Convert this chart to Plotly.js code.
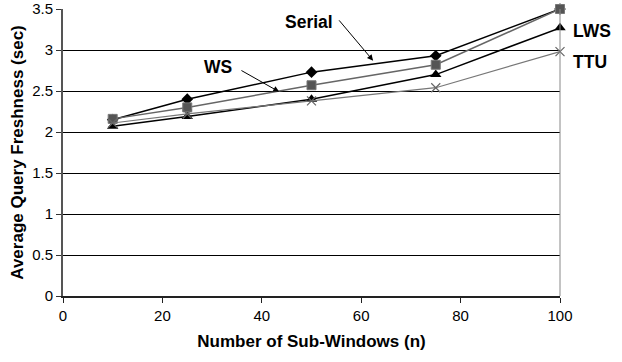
<!DOCTYPE html>
<html><head><meta charset="utf-8">
<script src="https://cdn.plot.ly/plotly-3.0.1.min.js"></script>
<style>html,body{margin:0;padding:0;background:#fff}#c{width:622px;height:362px}</style>
</head><body><div id="c"></div>
<script>
const xs = [10, 25, 50, 75, 100];
const serial = [2.15, 2.40, 2.73, 2.93, 3.50];
const ws = [2.16, 2.30, 2.57, 2.82, 3.50];
const lws = [2.07, 2.19, 2.40, 2.70, 3.27];
const ttu = [2.11, 2.22, 2.38, 2.54, 2.98];
const yTicks = [0, 0.5, 1, 1.5, 2, 2.5, 3, 3.5];
const yTickText = ['0', '0.5', '1', '1.5', '2', '2.5', '3', '3.5'];
const xTicks = [0, 20, 40, 60, 80, 100];

const F = 'Liberation Sans, Arial, sans-serif';
const traces = [
  {x: xs, y: serial, name: 'Serial', mode: 'lines+markers', cliponaxis: false, line: {color: '#000', width: 1.5},
   marker: {symbol: 'diamond', size: 9, color: '#000'}},
  {x: xs, y: lws, name: 'LWS', mode: 'lines+markers', cliponaxis: false, line: {color: '#000', width: 1.5},
   marker: {symbol: 'triangle-up', size: 10, color: '#000'}},
  {x: xs, y: ws, name: 'WS', mode: 'lines+markers', cliponaxis: false, line: {color: '#666', width: 1.5},
   marker: {symbol: 'square', size: 9, color: '#555', line: {width: 1, color: '#777'}}},
  {x: xs, y: ttu, name: 'TTU', mode: 'lines+markers', cliponaxis: false, line: {color: '#777', width: 1.2},
   marker: {symbol: 'x-thin-open', size: 9, color: '#666', line: {width: 1.2, color: '#666'}}}
];

const layout = {
  width: 622, height: 362,
  margin: {l: 63, r: 62, t: 9, b: 66},
  paper_bgcolor: '#fff', plot_bgcolor: '#fff',
  showlegend: false,
  font: {family: F, size: 15, color: '#000'},
  xaxis: {
    range: [0, 100], tickvals: xTicks, showgrid: false, zeroline: false,
    showline: true, linecolor: '#222', linewidth: 1.5,
    ticks: 'outside', ticklen: 5, tickcolor: '#222',
    tickfont: {family: F, size: 15},
    title: {text: 'Number of Sub-Windows (n)', font: {family: F, size: 17, weight: 'bold'}, standoff: 12}
  },
  yaxis: {
    range: [0, 3.5], tickvals: yTicks, ticktext: yTickText,
    showgrid: true, gridcolor: '#000', gridwidth: 1, zeroline: false,
    showline: true, linecolor: '#555', linewidth: 2,
    ticks: 'outside', ticklen: 5, tickcolor: '#333',
    tickfont: {family: F, size: 15},
    title: {text: 'Average Query Freshness (sec)', font: {family: F, size: 17, weight: 'bold'}, standoff: 4}
  },
  shapes: [
    {type: 'line', xref: 'paper', yref: 'paper', x0: 1, x1: 1, y0: 0, y1: 1, line: {color: '#888', width: 1}}
  ],
  annotations: [
    {x: 49.5, y: 3.34, xref: 'x', yref: 'y', text: '<b>Serial</b>', showarrow: false, font: {family: F, size: 17.5}},
    {x: 31.2, y: 2.79, xref: 'x', yref: 'y', text: '<b>WS</b>', showarrow: false, font: {family: F, size: 17.5}},
    {x: 1.064, y: 3.23, xref: 'paper', yref: 'y', xanchor: 'center', text: '<b>LWS</b>', showarrow: false, font: {family: F, size: 17.5}},
    {x: 1.06, y: 2.85, xref: 'paper', yref: 'y', xanchor: 'center', text: '<b>TTU</b>', showarrow: false, font: {family: F, size: 17.5}},
    {x: 62.4, y: 2.87, ax: 55.3, ay: 3.38, xref: 'x', yref: 'y', axref: 'x', ayref: 'y', text: '',
     showarrow: true, arrowhead: 2, arrowsize: 1.2, arrowwidth: 1, arrowcolor: '#000'},
    {x: 43.5, y: 2.49, ax: 35.6, ay: 2.76, xref: 'x', yref: 'y', axref: 'x', ayref: 'y', text: '',
     showarrow: true, arrowhead: 2, arrowsize: 1.2, arrowwidth: 1, arrowcolor: '#000'}
  ]
};
Plotly.newPlot('c', traces, layout, {staticPlot: true, displayModeBar: false});
</script></body></html>
